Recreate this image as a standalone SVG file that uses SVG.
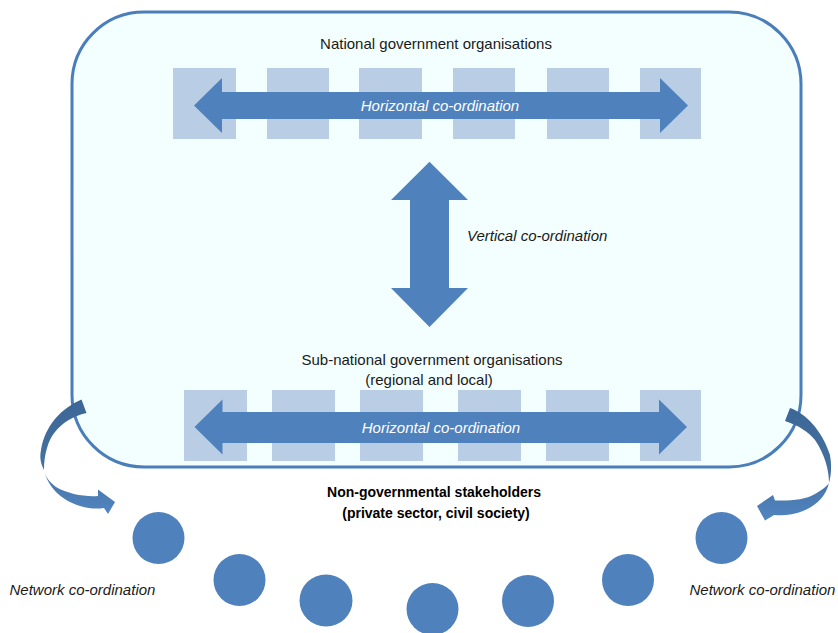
<svg xmlns="http://www.w3.org/2000/svg" width="838" height="633" viewBox="0 0 838 633">
<defs>
<style>
.t{font-family:"Liberation Sans",Arial,sans-serif;font-size:15px;fill:#1a1a1a;text-anchor:middle}
.i{font-style:italic}
.w{fill:#ffffff}
.b{font-weight:bold;fill:#000;font-size:14px}
.sq{fill:#B9CDE5}
.ar{fill:#4F81BD}
.el{fill:#4F81BD}
.ca{fill:url(#cg)}
</style>
<linearGradient id="cg" x1="0" y1="0" x2="0" y2="1">
<stop offset="0" stop-color="#3C6696"/>
<stop offset="0.55" stop-color="#44719F"/>
<stop offset="1" stop-color="#5184C1"/>
</linearGradient>
</defs>
<rect width="838" height="633" fill="#ffffff"/>
<g id="frame">
<rect x="72" y="12" width="729" height="455" rx="72" ry="72" fill="#F3FFFF" stroke="#4A7EBB" stroke-width="3"/>
</g>
<g id="national">
<text class="t" x="436" y="49">National government organisations</text>
<rect class="sq" x="173" y="68" width="63" height="71"/>
<rect class="sq" x="267" y="68" width="62" height="71"/>
<rect class="sq" x="359" y="68" width="63" height="71"/>
<rect class="sq" x="453" y="68" width="62" height="71"/>
<rect class="sq" x="547" y="68" width="62" height="71"/>
<rect class="sq" x="640" y="68" width="61" height="71"/>
</g>
<g id="subnational">
<text class="t" x="432" y="365">Sub-national government organisations</text>
<text class="t" x="429" y="385">(regional and local)</text>
<rect class="sq" x="184" y="390" width="63" height="71"/>
<rect class="sq" x="272" y="390" width="63" height="71"/>
<rect class="sq" x="360" y="390" width="63" height="71"/>
<rect class="sq" x="458" y="390" width="63" height="71"/>
<rect class="sq" x="546" y="390" width="63" height="71"/>
<rect class="sq" x="640" y="390" width="61" height="71"/>
</g>
<g id="stakeholders">
<text class="t b" x="434" y="497">Non-governmental stakeholders</text>
<text class="t b" x="436" y="518">(private sector, civil society)</text>
<ellipse class="el" cx="158.5" cy="538" rx="26" ry="26"/>
<ellipse class="el" cx="239.5" cy="580" rx="26" ry="26"/>
<ellipse class="el" cx="326" cy="600.5" rx="26.5" ry="26"/>
<ellipse class="el" cx="432.5" cy="609" rx="26" ry="26"/>
<ellipse class="el" cx="528" cy="601" rx="26" ry="26"/>
<ellipse class="el" cx="628" cy="580" rx="26" ry="26"/>
<ellipse class="el" cx="721.5" cy="538" rx="26" ry="26"/>
</g>
<g id="connectors">
<polygon class="ar" points="194,105.5 222,78 222,92 660,92 660,78 688,105.5 660,133 660,119 222,119 222,133"/>
<text class="t i w" x="440" y="111">Horizontal co-ordination</text>
<polygon class="ar" points="194.5,427 222.5,399.5 222.5,412 659,412 659,399.5 687,427 659,454.5 659,443 222.5,443 222.5,454.5"/>
<text class="t i w" x="441" y="433">Horizontal co-ordination</text>
<polygon class="ar" points="429.5,161.7 468,200 449,200 449,288 468,288 429.5,327 391,288 410,288 410,200 391,200"/>
<text class="t i" x="467" y="241" style="text-anchor:start">Vertical co-ordination</text>
<path class="ca" d="M81.5,399.5 C62,408 45,425 41,450 C39,460 42,466 44,470 C47,485 60,500 80,506 C90,509 98,509 104,508 L108,514 L115,502 L98,489.5 L98,496 C85,497 68,494 56,487 C49,482 45,476 44,470 C44,455 48,440 55,432 C62,423 73,416 86.5,413 Z"/>
<path class="ca" d="M790,408 C805,413 822,430 830,455 C832,466 831,476 829,483 C826,495 818,505 803,511 C793,515 783,516 774,515 L765,520.5 L757,506 L773,495 L775,500.5 C790,501 805,500 815,494 C822,490 827,486 829,483 C829,470 825,455 815,440 C808,432 800,426 785,421 Z"/>
<text class="t i" x="9.5" y="595" style="text-anchor:start">Network co-ordination</text>
<text class="t i" x="689.5" y="595" style="text-anchor:start">Network co-ordination</text>
</g>
</svg>
